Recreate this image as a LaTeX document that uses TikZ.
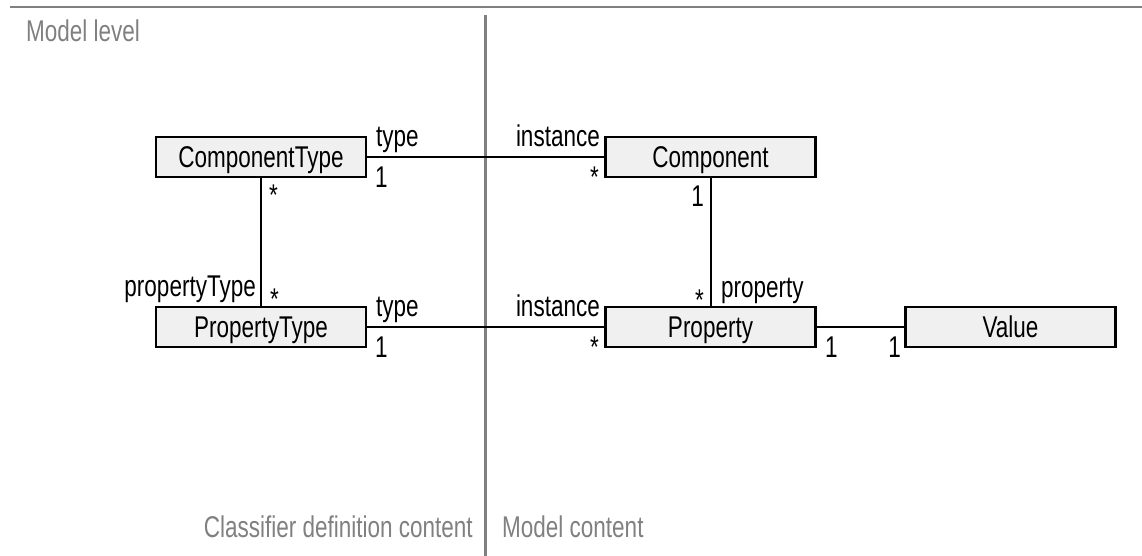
\documentclass[tikz,border=0pt]{standalone}
\usepackage{fontspec}
\setmainfont[FakeStretch=0.75]{Liberation Sans}
\definecolor{frame}{HTML}{808080}
\definecolor{boxfill}{HTML}{F0F0F0}
\begin{document}
\begin{tikzpicture}[x=1pt,y=-1pt,
  font=\fontsize{30pt}{34pt}\selectfont,
  cls/.style={draw=black,line width=2.4pt,fill=boxfill,minimum width=210pt,
    minimum height=40pt,inner sep=0pt,text height=21pt,text depth=0pt},
  assoc/.style={draw=black,line width=2pt},
  lbl/.style={inner sep=0pt,text=black},
  area/.style={inner sep=0pt,text=frame},
  divider/.style={draw=frame,line width=2.5pt}]
\useasboundingbox (0,0) rectangle (1142,556);

% frame of the model level
\coordinate (topL) at (10,7);
\coordinate (topR) at (1142,7);
\coordinate (divT) at (485.5,15);
\coordinate (divB) at (485.5,556);
\draw[divider] (topL) -- (topR);
\draw[divider] (divT) -- (divB);
\node[area,anchor=base west] (lvl) at (26,42) {Model level};
\node[area,anchor=base east] (cdc) at (473,537) {Classifier definition content};
\node[area,anchor=base west] (mc) at (502,537) {Model content};

% classes
\node[cls] (ct) at (261,157) {ComponentType};
\node[cls] (c)  at (710.5,157) {Component};
\node[cls] (pt) at (261,327) {PropertyType};
\node[cls] (p)  at (710.5,327) {Property};
\node[cls] (v)  at (1010.5,327) {Value};

% associations
\draw[assoc] (ct.east) -- (c.west);
\draw[assoc] (ct.south) -- (pt.north);
\draw[assoc] (pt.east) -- (p.west);
\draw[assoc] (c.south) -- (p.north);
\draw[assoc] (p.east) -- (v.west);

% role names and multiplicities
\node[lbl,anchor=base west] (ctType) at (376,147) {type};
\node[lbl,anchor=base west] (ctOne)  at (375,187) {1};
\node[lbl,anchor=base east] (cInst)  at (600,147) {instance};
\node[lbl,anchor=base east] (cStar)  at (599,187) {*};
\node[lbl,anchor=base west] (ctStar) at (269,205) {*};
\node[lbl,anchor=base east] (ptRole) at (256,296) {propertyType};
\node[lbl,anchor=base west] (ptStar) at (270,309) {*};
\node[lbl,anchor=base west] (ptType) at (376,316) {type};
\node[lbl,anchor=base west] (ptOne)  at (375,357) {1};
\node[lbl,anchor=base east] (pInst)  at (600,316) {instance};
\node[lbl,anchor=base east] (pStar)  at (599,357) {*};
\node[lbl,anchor=base east] (cOne)   at (704,206) {1};
\node[lbl,anchor=base east] (pStar2) at (704,310) {*};
\node[lbl,anchor=base west] (pRole)  at (721,297) {property};
\node[lbl,anchor=base west] (pOne)   at (825,357) {1};
\node[lbl,anchor=base east] (vOne)   at (901,357) {1};
\end{tikzpicture}
\end{document}
